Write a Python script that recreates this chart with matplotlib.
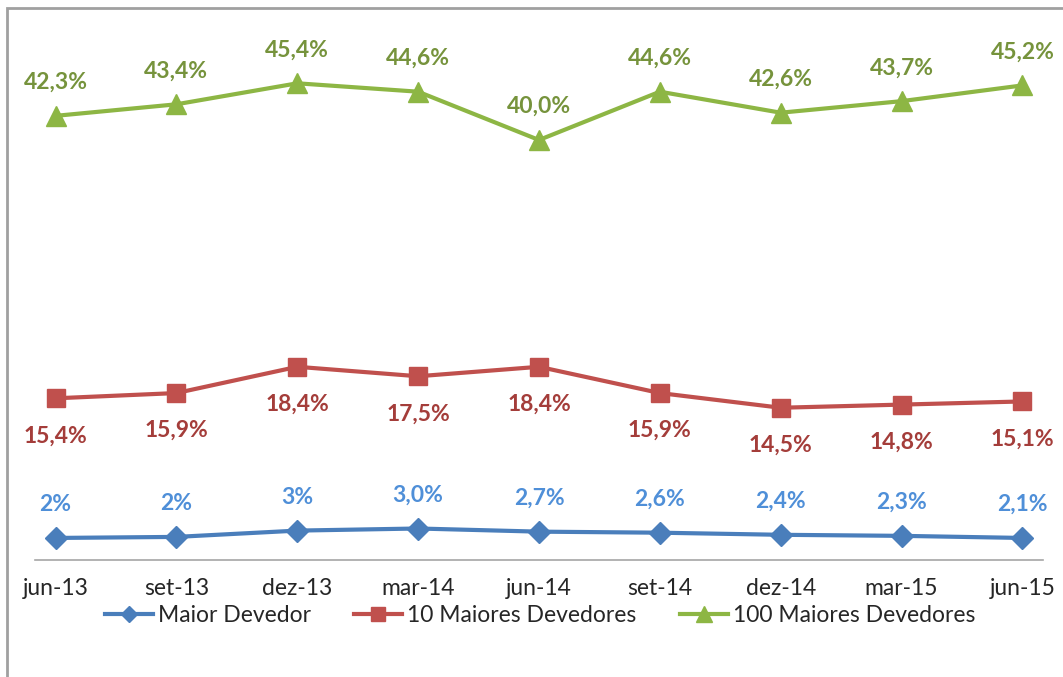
import matplotlib.pyplot as plt
from matplotlib.patches import Rectangle

periods = ["jun-13", "set-13", "dez-13", "mar-14", "jun-14", "set-14", "dez-14", "mar-15", "jun-15"]
maior = [2.1, 2.2, 2.8, 3.0, 2.7, 2.6, 2.4, 2.3, 2.1]
maior_labels = ["2%", "2%", "3%", "3,0%", "2,7%", "2,6%", "2,4%", "2,3%", "2,1%"]
top10 = [15.4, 15.9, 18.4, 17.5, 18.4, 15.9, 14.5, 14.8, 15.1]
top100 = [42.3, 43.4, 45.4, 44.6, 40.0, 44.6, 42.6, 43.7, 45.2]

BLUE, RED, GREEN = "#4A7EBB", "#C0504D", "#8DB644"
BLUE_TXT, RED_TXT, GREEN_TXT = "#4F8FD8", "#A43D3A", "#76933C"
FONT = "Lato"

fig = plt.figure(figsize=(10.63, 6.77), dpi=100)
ax = fig.add_axes([35 / 1063, 117 / 677, 1008 / 1063, 525 / 677])

x = list(range(len(periods)))
l1, = ax.plot(x, maior, color=BLUE, lw=3, marker="D", ms=11, label="Maior Devedor")
l2, = ax.plot(x, top10, color=RED, lw=3, marker="s", ms=13, label="10 Maiores Devedores")
l3, = ax.plot(x, top100, color=GREEN, lw=3, marker="^", ms=15, label="100 Maiores Devedores")

def fmt(v):
    return f"{v:.1f}%".replace(".", ",")

for i in x:
    ax.annotate(maior_labels[i], (i, maior[i]), xytext=(0, 24), textcoords="offset points",
                ha="center", va="center", color=BLUE_TXT, fontsize=16.5, fontweight="bold", family=FONT)
    ax.annotate(fmt(top10[i]), (i, top10[i]), xytext=(0, -27), textcoords="offset points",
                ha="center", va="center", color=RED_TXT, fontsize=16.5, fontweight="bold", family=FONT)
    ax.annotate(fmt(top100[i]), (i, top100[i]), xytext=(0, 24), textcoords="offset points",
                ha="center", va="center", color=GREEN_TXT, fontsize=16.5, fontweight="bold", family=FONT)

ax.set_xlim(-0.17, 8.17)
ax.set_ylim(0, 50)
ax.set_xticks(x)
ax.set_xticklabels(periods, fontsize=16.5, color="#262626", family=FONT)
ax.tick_params(axis="x", length=0, pad=13)
ax.set_yticks([])
for s in ["top", "right", "left"]:
    ax.spines[s].set_visible(False)
ax.spines["bottom"].set_color("#A6A6A6")
ax.spines["bottom"].set_linewidth(1.2)

fig.legend(handles=[l1, l2, l3], loc="center", bbox_to_anchor=(540 / 1063, 1 - 616 / 677),
           ncol=3, frameon=False, prop={"family": FONT, "size": 16.5}, handlelength=2.1,
           columnspacing=1.9, handletextpad=0.2, labelcolor="#262626", markerscale=0.75)

fig.patches.append(Rectangle((7 / 1063, -0.1), 1.1, 1.1 - 8 / 677, transform=fig.transFigure,
                             fill=False, edgecolor="#A0A0A0", lw=2))

fig.savefig("out.png", dpi=100)
